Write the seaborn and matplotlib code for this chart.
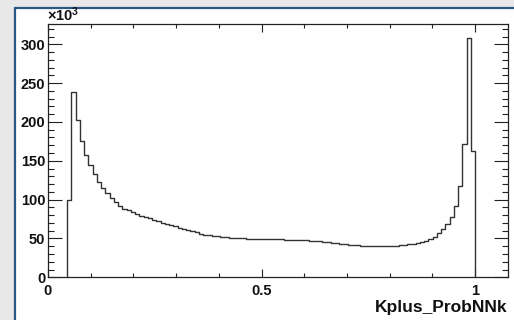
import numpy as np
import pandas as pd
import matplotlib
matplotlib.use("Agg")
import matplotlib.pyplot as plt
from matplotlib.ticker import MultipleLocator, FixedLocator, FixedFormatter
from matplotlib.patches import Rectangle
from matplotlib.lines import Line2D
import seaborn as sns

# Kplus_ProbNNk distribution: 96 equal-width bins, counts in units of 10^3
bin_lo = 0.045
bin_hi = 1.0
counts_k = [
    100.0, 238.0, 202.0, 176.0, 158.0, 144.0, 133.0, 123.0, 115.0, 108.0,
    102.0, 96.5, 92.0, 88.5, 86.0, 83.5, 81.5, 79.5, 77.6, 75.8,
    74.0, 72.2, 70.5, 68.8, 67.1, 65.5, 64.0, 62.5, 60.8, 59.2,
    57.7, 56.3, 55.1, 54.1, 53.3, 52.6, 52.0, 51.5, 51.1, 50.7,
    50.4, 50.1, 49.9, 49.7, 49.5, 49.4, 49.3, 49.2, 49.1, 49.0,
    48.8, 48.6, 48.4, 48.2, 48.0, 47.7, 47.4, 47.0, 46.6, 46.1,
    45.6, 45.1, 44.5, 43.9, 43.3, 42.7, 42.2, 41.7, 41.3, 40.9,
    40.6, 40.4, 40.3, 40.3, 40.3, 40.4, 40.6, 40.9, 41.4, 42.0,
    42.5, 43.0, 44.2, 45.4, 47.1, 49.3, 52.3, 56.6, 61.8, 68.6,
    78.0, 92.0, 117.5, 171.0, 308.0, 163.0,
]
x_ticks = [0, 0.5, 1]
x_tick_labels = ["0", "0.5", "1"]
y_ticks = [0, 50, 100, 150, 200, 250, 300]
y_tick_labels = ["0", "50", "100", "150", "200", "250", "300"]
x_title = "Kplus_ProbNNk"

sns.set_theme(style="white")
plt.rcParams["font.family"] = ["Liberation Sans", "DejaVu Sans"]
plt.rcParams["font.weight"] = "bold"
plt.rcParams["mathtext.fontset"] = "custom"
plt.rcParams["mathtext.rm"] = "Liberation Sans:bold"
plt.rcParams["mathtext.bf"] = "Liberation Sans:bold"
plt.rcParams["mathtext.it"] = "Liberation Sans:bold"

W, H = 514, 320
fig = plt.figure(figsize=(W / 100, H / 100), dpi=100, facecolor="#e8e8e8")

# white pad with its framed top/left edge
pad_x0, pad_y1 = 15 / W, 1 - 8 / H
fig.patches.append(Rectangle((pad_x0, 0), 1 - pad_x0, pad_y1,
                             transform=fig.transFigure, facecolor="white",
                             edgecolor="none", zorder=-10))
frame_col = "#2a5685"
fig.add_artist(Line2D([pad_x0, pad_x0], [0, pad_y1], transform=fig.transFigure,
                      color=frame_col, lw=1.6, zorder=-5))
fig.add_artist(Line2D([pad_x0, 1], [pad_y1, pad_y1], transform=fig.transFigure,
                      color=frame_col, lw=1.6, zorder=-5))

ax = fig.add_axes([48 / W, 1 - 277.3 / H, 460 / W, 253.3 / H])
ax.set_facecolor("white")

line_col = "#333333"
edges = np.linspace(bin_lo, bin_hi, len(counts_k) + 1)
hist_df = pd.DataFrame({
    "prob": 0.5 * (edges[:-1] + edges[1:]),
    "count": counts_k,
})
sns.histplot(data=hist_df, x="prob", weights="count", bins=list(edges),
             element="step", fill=False, color=line_col, linewidth=1.0, ax=ax)
# close the outline down to zero at both ends of the binned range
ax.vlines([edges[0], edges[-1]], 0, [counts_k[0], counts_k[-1]],
          color=line_col, linewidth=1.0)

ax.set_xlim(0, 1.0772)
ax.set_ylim(0, 326.1)
ax.set_xlabel("")
ax.set_ylabel("")

ax.xaxis.set_major_locator(FixedLocator(x_ticks))
ax.xaxis.set_major_formatter(FixedFormatter(x_tick_labels))
ax.xaxis.set_minor_locator(MultipleLocator(0.1))
ax.yaxis.set_major_locator(FixedLocator(y_ticks))
ax.yaxis.set_major_formatter(FixedFormatter(y_tick_labels))
ax.yaxis.set_minor_locator(MultipleLocator(10))

for s in ax.spines.values():
    s.set_color("#222222")
    s.set_linewidth(0.9)

ax.tick_params(axis="x", which="major", direction="in", length=5.5, width=0.8,
               top=True, bottom=True, color="#222222", labelsize=10.5, pad=5)
ax.tick_params(axis="x", which="minor", direction="in", length=2.9, width=0.8,
               top=True, bottom=True, color="#222222")
ax.tick_params(axis="y", which="major", direction="in", length=9.9, width=0.8,
               left=True, right=True, color="#222222", labelsize=10.5, pad=2)
ax.tick_params(axis="y", which="minor", direction="in", length=4.3, width=0.8,
               left=True, right=True, color="#222222")
for lab in ax.get_xticklabels() + ax.get_yticklabels():
    lab.set_fontweight("bold")
    lab.set_color("#111111")

fig.text(47 / W, 1 - 24.5 / H, r"$\times10^{3}$", ha="left", va="bottom",
         fontsize=10.5, color="#111111")
fig.text(507 / W, 1 - 311.7 / H, x_title, ha="right", va="baseline",
         fontsize=12.5, fontweight="bold", color="#111111")

fig.savefig("out.png", dpi=100, facecolor=fig.get_facecolor())
